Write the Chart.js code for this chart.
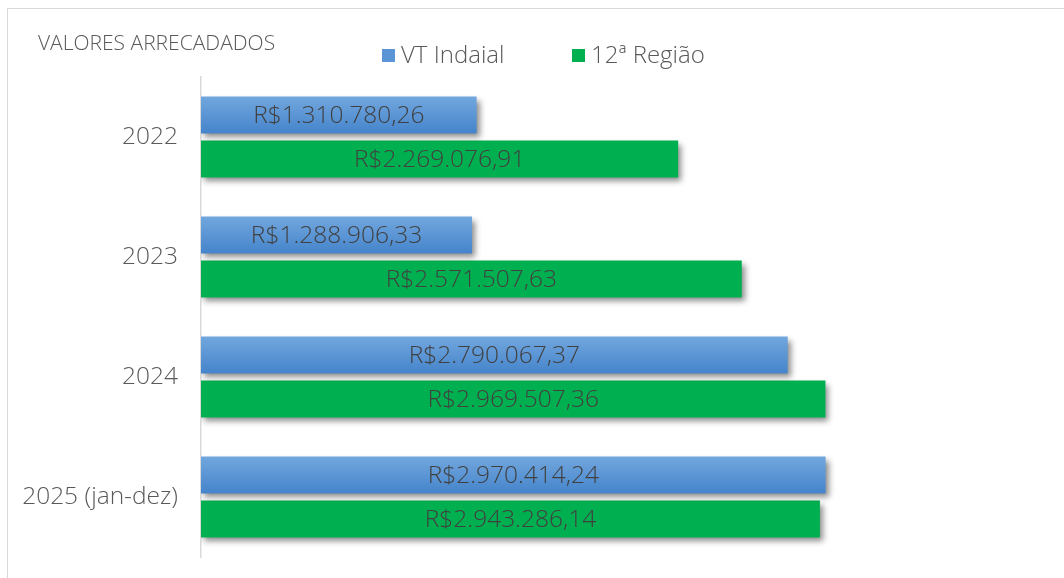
<!DOCTYPE html>
<html>
<head>
<meta charset="utf-8">
<script src="https://cdn.jsdelivr.net/npm/chart.js@4"></script>
<style>
  html, body { margin: 0; padding: 0; background: #ffffff; }
  #wrap { width: 1064px; height: 578px; position: relative; }
</style>
</head>
<body>
<div id="wrap"><canvas id="c" width="1064" height="578"></canvas></div>
<script>
const categories = ['2022', '2023', '2024', '2025 (jan-dez)'];
const vtIndaial = [1310780.26, 1288906.33, 2790067.37, 2970414.24];
const regiao12 = [2269076.91, 2571507.63, 2969507.36, 2943286.14];
const seriesNames = ['VT Indaial', '12ª Região'];
const chartTitle = 'VALORES ARRECADADOS';

const FONT = "'Open Sans', 'DejaVu Sans', sans-serif";
const W = '300 ';
const TEXT = '#595959';

function brl(v) {
  const parts = v.toFixed(2).split('.');
  return 'R$' + parts[0].replace(/\B(?=(\d{3})+(?!\d))/g, '.') + ',' + parts[1];
}

const decor = {
  id: 'decor',
  beforeDraw(chart) {
    const ctx = chart.ctx;
    ctx.save();
    ctx.fillStyle = '#ffffff';
    ctx.fillRect(0, 0, chart.width, chart.height);
    ctx.strokeStyle = '#d9d9d9';
    ctx.lineWidth = 1;
    ctx.strokeRect(7.5, 8.5, chart.width + 10, chart.height + 10);
    // title
    ctx.fillStyle = TEXT;
    ctx.font = W + "21px " + FONT;
    ctx.textBaseline = 'alphabetic';
    ctx.textAlign = 'left';
    ctx.fillText(chartTitle, 38, 50);
    // legend
    const items = [
      { x: 382, color: '#5b95d6' },
      { x: 572, color: '#00b050' }
    ];
    ctx.font = W + "24px " + FONT;
    chart.data.datasets.forEach((ds, i) => {
      const it = items[i];
      ctx.fillStyle = it.color;
      ctx.fillRect(it.x, 49, 13, 13);
      ctx.fillStyle = TEXT;
      ctx.fillText(ds.label, it.x + 19, 63);
    });
    ctx.restore();
  },
  beforeDatasetsDraw(chart) {
    const ctx = chart.ctx;
    const meta = chart.getDatasetMeta(0);
    meta.data.forEach(el => {
      const g = ctx.createLinearGradient(0, el.y - el.height / 2, 0, el.y + el.height / 2);
      g.addColorStop(0, '#72a7de');
      g.addColorStop(1, '#4584cb');
      el.options = Object.assign({}, el.options, { backgroundColor: g });
    });
    ctx.save();
    ctx.shadowColor = 'rgba(0,0,0,0.45)';
    ctx.shadowBlur = 6;
    ctx.shadowOffsetX = 3;
    ctx.shadowOffsetY = 4;
  },
  afterDatasetsDraw(chart) {
    const ctx = chart.ctx;
    ctx.restore();
    ctx.save();
    ctx.font = W + "24.5px " + FONT;
    ctx.fillStyle = '#404040';
    ctx.textAlign = 'center';
    ctx.textBaseline = 'middle';
    chart.data.datasets.forEach((ds, di) => {
      const meta = chart.getDatasetMeta(di);
      meta.data.forEach((el, i) => {
        const cx = (el.x + el.base) / 2;
        ctx.fillText(brl(ds.data[i]), cx, el.y + 1);
      });
    });
    ctx.restore();
  }
};

new Chart(document.getElementById('c'), {
  type: 'bar',
  data: {
    labels: categories,
    datasets: [
      { label: seriesNames[0], data: vtIndaial, backgroundColor: '#5b95d6', borderWidth: 0 },
      { label: seriesNames[1], data: regiao12, backgroundColor: '#00b050', borderWidth: 0 }
    ]
  },
  options: {
    indexAxis: 'y',
    responsive: false,
    animation: false,
    devicePixelRatio: 1,
    layout: { padding: { top: 77, bottom: 21, right: 127, left: 0 } },
    datasets: { bar: { categoryPercentage: 0.733, barPercentage: 0.84 } },
    plugins: {
      legend: { display: false },
      title: { display: false },
      tooltip: { enabled: false }
    },
    scales: {
      x: { display: false, min: 0, max: 3500000, afterFit(s) { s.height = 0; s.paddingLeft = 0; s.paddingRight = 0; } },
      y: {
        afterFit(s) { s.width = 201; s.paddingTop = 0; s.paddingBottom = 0; },
        grid: { display: false, drawTicks: false },
        border: { display: true, color: '#d9d9d9', width: 1.5 },
        ticks: { color: TEXT, font: { family: FONT, size: 24.5, weight: 300 }, padding: 23 }
      }
    }
  },
  plugins: [decor]
});
</script>
</body>
</html>
